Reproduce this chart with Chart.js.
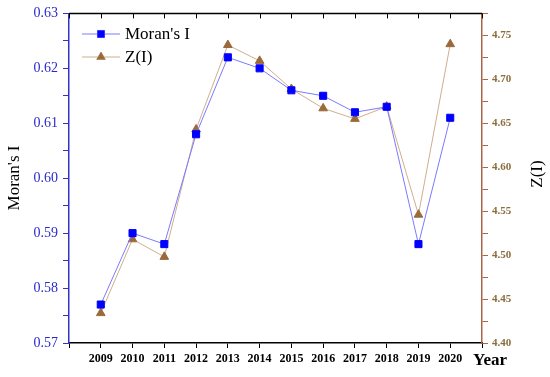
<!DOCTYPE html>
<html>
<head>
<meta charset="utf-8">
<script src="https://cdn.jsdelivr.net/npm/chart.js@4"></script>
<style>
  html, body { margin: 0; padding: 0; background: #fff; }
</style>
</head>
<body>
<canvas id="chart" width="550" height="377"></canvas>
<script>
// data
const years = [2009, 2010, 2011, 2012, 2013, 2014, 2015, 2016, 2017, 2018, 2019, 2020];
const moransI = [0.577, 0.590, 0.588, 0.608, 0.622, 0.620, 0.616, 0.615, 0.612, 0.613, 0.588, 0.611];
const zValues = [4.434, 4.518, 4.498, 4.643, 4.739, 4.721, 4.689, 4.667, 4.655, 4.669, 4.546, 4.740];
const leftTicks = ['0.57', '0.58', '0.59', '0.60', '0.61', '0.62', '0.63'];
const rightTicks = ['4.40', '4.45', '4.50', '4.55', '4.60', '4.65', '4.70', '4.75'];

const serif = '"Liberation Serif", "Times New Roman", serif';
const blue = '#0000ff';
const brown = '#9b6a3c';
const rightAxisColor = '#a8654a';

// top border with inward ticks, axis titles and legend
const extras = {
    id: 'extras',
    afterDraw(chart) {
        const ctx = chart.ctx;
        const area = chart.chartArea;
        const x = chart.scales.x;
        ctx.save();
        ctx.strokeStyle = '#000';
        ctx.lineWidth = 1.5;
        ctx.beginPath();
        ctx.moveTo(area.left, area.top);
        ctx.lineTo(area.right, area.top);
        ctx.stroke();
        ctx.lineWidth = 1;
        for (let v = 2008; v <= 2021; v++) {
            const px = Math.round(x.getPixelForValue(v)) + 0.5;
            ctx.beginPath();
            ctx.moveTo(px, area.top);
            ctx.lineTo(px, area.top + 5);
            ctx.stroke();
        }

        // axis titles
        ctx.fillStyle = '#000';
        ctx.textAlign = 'center';
        ctx.textBaseline = 'middle';
        ctx.font = '17px ' + serif;
        ctx.save();
        ctx.translate(15, 178);
        ctx.rotate(-Math.PI / 2);
        ctx.fillText("Moran's I", 0, 0);
        ctx.restore();
        ctx.save();
        ctx.translate(538, 174);
        ctx.rotate(-Math.PI / 2);
        ctx.fillText('Z(I)', 0, 0);
        ctx.restore();
        ctx.font = 'bold 17px ' + serif;
        ctx.fillText('Year', 490, 361);

        // legend
        const items = chart.data.datasets;
        ctx.textAlign = 'left';
        ctx.font = '17px ' + serif;
        items.forEach((ds, i) => {
            const y = 34 + i * 23;
            ctx.strokeStyle = ds.borderColor;
            ctx.lineWidth = 1;
            ctx.beginPath();
            ctx.moveTo(82, y);
            ctx.lineTo(120, y);
            ctx.stroke();
            Chart.helpers.drawPoint(ctx, {
                pointStyle: ds.pointStyle,
                radius: ds.pointRadius,
                borderWidth: 1
            }, 101, y);
            ctx.fillStyle = ds.pointBackgroundColor;
            ctx.strokeStyle = ds.pointBorderColor;
            ctx.fill();
            ctx.fillStyle = '#000';
            ctx.fillText(ds.label, 125, y + 1);
        });
        ctx.restore();
    }
};

const ctx = document.getElementById('chart').getContext('2d');
new Chart(ctx, {
    type: 'line',
    data: {
        datasets: [
            {
                label: "Moran's I",
                data: years.map((y, i) => ({ x: y, y: moransI[i] })),
                yAxisID: 'y',
                borderColor: '#7a7aff',
                borderWidth: 1,
                pointStyle: 'rect',
                pointRadius: 5,
                pointBackgroundColor: blue,
                pointBorderColor: blue,
                pointBorderWidth: 1,
                tension: 0
            },
            {
                label: 'Z(I)',
                data: years.map((y, i) => ({ x: y, y: zValues[i] })),
                yAxisID: 'y1',
                borderColor: '#cfae8c',
                borderWidth: 1,
                pointStyle: 'triangle',
                pointRadius: 5,
                pointBackgroundColor: brown,
                pointBorderColor: brown,
                pointBorderWidth: 1,
                tension: 0
            }
        ]
    },
    options: {
        responsive: false,
        animation: false,
        devicePixelRatio: 1,
        layout: { padding: { top: 10, left: 0, right: 0, bottom: 0 } },
        plugins: {
            legend: { display: false },
            tooltip: { enabled: false }
        },
        scales: {
            x: {
                type: 'linear',
                position: 'bottom',
                min: 2008,
                max: 2021,
                afterFit(scale) { scale.height = 34; },
                ticks: {
                    stepSize: 1,
                    autoSkip: false,
                    maxRotation: 0,
                    padding: 4,
                    color: '#000',
                    font: { family: serif, size: 12, weight: 'bold' },
                    callback: v => years.includes(v) ? String(v) : ''
                },
                grid: { drawOnChartArea: false, tickLength: 5, color: '#000' },
                border: { color: '#000', width: 1.5 }
            },
            y: {
                position: 'left',
                min: 0.57,
                max: 0.63,
                afterFit(scale) { scale.width = 69; },
                ticks: {
                    stepSize: 0.005,
                    autoSkip: false,
                    padding: 5,
                    color: '#2a2acc',
                    font: { family: serif, size: 14 },
                    callback: v => {
                        const s = v.toFixed(3);
                        const t = v.toFixed(2);
                        return (s.endsWith('0') && leftTicks.includes(t)) ? t : '';
                    }
                },
                grid: { drawOnChartArea: false, tickLength: 6, color: '#3333cc' },
                border: { color: '#3333cc', width: 1.5 }
            },
            y1: {
                position: 'right',
                min: 4.40,
                max: 4.775,
                afterFit(scale) { scale.width = 68; },
                ticks: {
                    stepSize: 0.025,
                    autoSkip: false,
                    padding: 4,
                    color: '#8b6d3f',
                    font: { family: serif, size: 11, weight: 'bold' },
                    callback: v => {
                        const s = v.toFixed(3);
                        const t = v.toFixed(2);
                        return (s.endsWith('0') && rightTicks.includes(t)) ? t : '';
                    }
                },
                grid: { drawOnChartArea: false, tickLength: 6, color: rightAxisColor },
                border: { color: rightAxisColor, width: 1.5 }
            }
        }
    },
    plugins: [extras]
});
</script>
</body>
</html>
